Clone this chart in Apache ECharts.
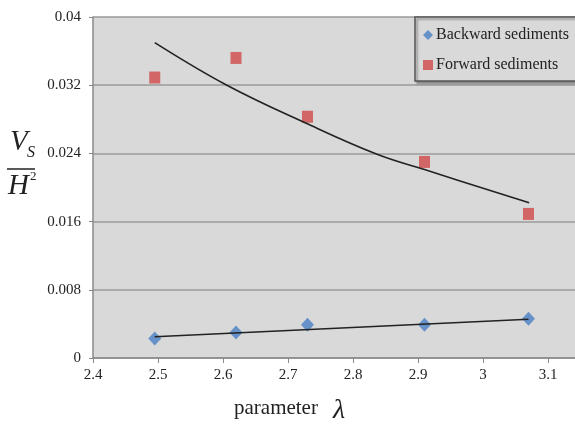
<!DOCTYPE html>
<html>
<head>
<meta charset="utf-8">
<script src="https://cdn.jsdelivr.net/npm/echarts@6/dist/echarts.min.js"></script>
<style>
html,body{margin:0;padding:0;background:#fff;}
#chart{width:575px;height:430px;}
</style>
</head>
<body>
<div id="chart"></div>
<script>
// Data
var lambdaValues = [2.495, 2.62, 2.73, 2.91, 3.07];
var backwardValues = [0.0023, 0.0030, 0.0039, 0.0039, 0.0046];
var forwardValues = [0.0329, 0.0352, 0.0283, 0.0230, 0.0169];
// Trend lines as drawn in the reference
var backwardTrendX = [2.495, 3.07];
var backwardTrendY = [0.0025, 0.00454];
var forwardTrendX = [2.495, 2.606, 2.729, 2.837, 2.91, 3.071];
var forwardTrendY = [0.0370, 0.0320, 0.0275, 0.0239, 0.0221, 0.0182];
var seriesNames = ['Backward sediments', 'Forward sediments'];

function zip(a, b) { return a.map(function (v, i) { return [v, b[i]]; }); }

var serif = '"Liberation Serif", "DejaVu Serif", serif';
var chart = echarts.init(document.getElementById('chart'));
chart.setOption({
  animation: false,
  textStyle: { fontFamily: serif },
  grid: {
    left: 93, top: 17, width: 520, bottom: 72,
    containLabel: false,
    outerBoundsMode: 'none',
    show: true, backgroundColor: '#d9d9d9', borderWidth: 0
  },
  xAxis: {
    type: 'value', min: 2.4, max: 3.2, interval: 0.1,
    axisLine: { show: true, onZero: false, lineStyle: { color: '#8a8a8a', width: 1.5 } },
    axisTick: { show: true, length: 5, lineStyle: { color: '#8a8a8a' } },
    axisLabel: { color: '#222', fontSize: 15, fontFamily: serif, margin: 10 },
    splitLine: { show: false }
  },
  yAxis: {
    type: 'value', min: 0, max: 0.04, interval: 0.008,
    axisLine: { show: true, lineStyle: { color: '#8a8a8a', width: 1.5 } },
    axisTick: { show: true, length: 4, lineStyle: { color: '#8a8a8a' } },
    axisLabel: { color: '#222', fontSize: 15, fontFamily: serif, margin: 12 },
    splitLine: { show: true, lineStyle: { color: '#9a9a9a', width: 1.5 } }
  },
  legend: {
    data: seriesNames,
    orient: 'vertical',
    left: 415, top: 17,
    padding: [10, 8, 8, 8],
    itemGap: 14,
    itemWidth: 10, itemHeight: 10,
    backgroundColor: '#d9d9d9',
    borderColor: '#555', borderWidth: 1.5,
    shadowColor: 'rgba(0,0,0,0.35)', shadowOffsetX: 2, shadowOffsetY: 2, shadowBlur: 2,
    textStyle: { fontSize: 16, fontFamily: serif, color: '#222', padding: [0, 0, 0, -2] }
  },
  series: [
    {
      name: seriesNames[0], type: 'scatter',
      symbol: 'diamond', symbolSize: [13, 14],
      itemStyle: { color: '#4a7fc4' },
      data: zip(lambdaValues, backwardValues), z: 2
    },
    {
      name: seriesNames[1], type: 'scatter',
      symbol: 'rect', symbolSize: [11, 12],
      itemStyle: { color: '#d04848' },
      data: zip(lambdaValues, forwardValues), z: 2
    },
    {
      name: 'Backward trend', type: 'line', showSymbol: false, symbol: 'none',
      lineStyle: { color: '#222', width: 1.6 },
      data: zip(backwardTrendX, backwardTrendY), z: 3
    },
    {
      name: 'Forward trend', type: 'line', showSymbol: false, symbol: 'none', smooth: 0.4,
      lineStyle: { color: '#222', width: 1.6 },
      data: zip(forwardTrendX, forwardTrendY), z: 3
    }
  ],
  graphic: [
    { type: 'text', left: 10, top: 128, style: { text: 'V', font: 'italic 29px ' + serif, fill: '#222' } },
    { type: 'text', left: 27, top: 145, style: { text: 'S', font: 'italic 16px ' + serif, fill: '#222' } },
    { type: 'line', shape: { x1: 7, y1: 169, x2: 35, y2: 169 }, style: { stroke: '#222', lineWidth: 1.5 } },
    { type: 'text', left: 8, top: 172, style: { text: 'H', font: 'italic 29px ' + serif, fill: '#222' } },
    { type: 'text', left: 30, top: 170, style: { text: '2', font: '13px ' + serif, fill: '#222' } },
    { type: 'text', left: 234, top: 398, style: { text: 'parameter', font: '21px ' + serif, fill: '#222' } },
    { type: 'text', left: 333, top: 397, style: { text: 'λ', font: 'italic 28px ' + serif, fill: '#222' } }
  ]
});
</script>
</body>
</html>
